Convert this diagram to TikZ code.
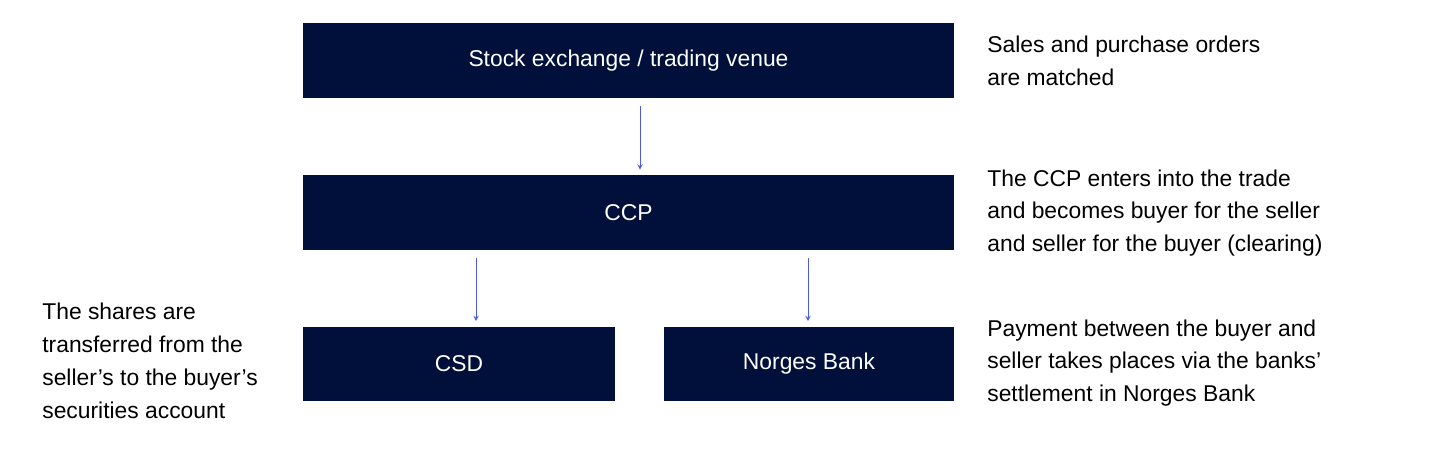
\documentclass[tikz,border=0pt]{standalone}
\usepackage{fontspec}
\setmainfont{Liberation Sans}
\usetikzlibrary{positioning}
\definecolor{navy}{HTML}{00103A}
\definecolor{arrowblue}{HTML}{4A5BE0}
\tikzset{
  box/.style={fill=navy, text=white, minimum height=1.5cm, inner sep=0pt, font=\fontsize{13}{16}\selectfont},
  note/.style={align=left, anchor=west, font=\fontsize{13}{18.7}\selectfont, inner sep=0pt},
  link/.style={->, arrowblue, line width=0.4pt, >=stealth, shorten <=0.16cm, shorten >=0.1cm}
}
\begin{document}
\begin{tikzpicture}[x=0.02cm, y=-0.02cm]
                \useasboundingbox (0,0) rectangle (1445,452);
                % Boxes
                \node[box, minimum width=13.02cm] (venue) at (628.5,60.5) {Stock exchange / trading venue};
                \node[box, minimum width=13.02cm] (ccp) at (628.5,212.5) {CCP};
                \node[box, minimum width=6.24cm] (csd) at (459,364) {CSD};
                \node[box, minimum width=5.8cm] (nb) at (809,364) {Norges Bank};
                
                % Arrows
                \coordinate (a1) at (640,98);
                \coordinate (a2) at (476,250);
                \coordinate (a3) at (808,250);
                \draw[link] (a1) -- (a1 |- ccp.north);
                \draw[link] (a2) -- (a2 |- csd.north);
                \draw[link] (a3) -- (a3 |- nb.north);
                
                % Notes
                \node[note] (n1) at (987,61) {Sales and purchase orders\\are matched};
                \node[note] (n2) at (987,213) {The CCP enters into the trade\\and becomes buyer for the seller\\and seller for the buyer (clearing)};
                \node[note] (n3) at (987,363) {Payment between the buyer and\\seller takes places via the banks'\\settlement in Norges Bank};
                \node[note] (n4) at (42,361) {The shares are\\transferred from the\\seller's to the buyer's\\securities account};
\end{tikzpicture}
\end{document}
